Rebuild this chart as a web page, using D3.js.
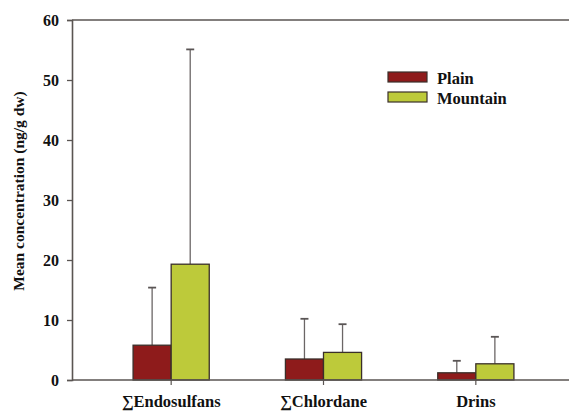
<!DOCTYPE html>
<html>
<head>
<meta charset="utf-8">
<script src="https://cdn.jsdelivr.net/npm/d3@7"></script>
<style>
  html, body { margin: 0; padding: 0; background: #fff; }
  svg { display: block; }
  text { font-family: "Liberation Serif", "Times New Roman", serif; font-weight: bold; fill: #111; }
</style>
</head>
<body>
<svg id="chart" width="569" height="411"></svg>
<script>
// Pesticide groups and the two sampling zones
const categories = ["\u2211Endosulfans", "\u2211Chlordane", "Drins"];
const seriesNames = ["Plain", "Mountain"];
const plainMeans = [5.8, 3.5, 1.2];
const mountainMeans = [19.3, 4.6, 2.7];
const plainUpper = [15.4, 10.2, 3.2];
const mountainUpper = [55.1, 9.3, 7.2];
const yTicks = [0, 10, 20, 30, 40, 50, 60];
const colors = ["#8e1b1b", "#bdca3a"];

const rows = categories.map((c, i) => ({
  category: c,
  values: [
    { series: seriesNames[0], mean: plainMeans[i], upper: plainUpper[i] },
    { series: seriesNames[1], mean: mountainMeans[i], upper: mountainUpper[i] }
  ]
}));

const svg = d3.select("#chart");
const plotLeft = 72, plotTop = 20, plotBottom = 380, plotRight = 569;

const y = d3.scaleLinear().domain([0, 60]).range([plotBottom, plotTop]);
const x = d3.scaleBand().domain(categories).range([95, 552])
  .paddingInner(0.5).paddingOuter(0.25);
const xs = d3.scaleBand().domain(seriesNames).range([0, x.bandwidth()]);
const color = d3.scaleOrdinal().domain(seriesNames).range(colors);

const axisColor = "#5a5552";

// Top border across the full width
svg.append("line").attr("x1", plotLeft).attr("x2", plotRight)
  .attr("y1", plotTop).attr("y2", plotTop)
  .attr("stroke", axisColor).attr("stroke-width", 1.6);

// Bars and upper error whiskers
const groups = svg.append("g").selectAll("g").data(rows).join("g")
  .attr("transform", d => `translate(${x(d.category)},0)`);

groups.selectAll("line.err").data(d => d.values).join("line")
  .attr("class", "err")
  .attr("x1", d => xs(d.series) + xs.bandwidth() / 2)
  .attr("x2", d => xs(d.series) + xs.bandwidth() / 2)
  .attr("y1", d => y(d.mean)).attr("y2", d => y(d.upper))
  .attr("stroke", "#6b6666").attr("stroke-width", 1.3);

groups.selectAll("line.cap").data(d => d.values).join("line")
  .attr("class", "cap")
  .attr("x1", d => xs(d.series) + xs.bandwidth() / 2 - 4)
  .attr("x2", d => xs(d.series) + xs.bandwidth() / 2 + 4)
  .attr("y1", d => y(d.upper)).attr("y2", d => y(d.upper))
  .attr("stroke", "#5a5555").attr("stroke-width", 1.8);

groups.selectAll("rect").data(d => d.values).join("rect")
  .attr("x", d => xs(d.series))
  .attr("y", d => y(d.mean))
  .attr("width", xs.bandwidth())
  .attr("height", d => y(0) - y(d.mean))
  .attr("fill", d => color(d.series))
  .attr("stroke", "#3a2f2a").attr("stroke-width", 1.3);

// Y axis
const yAxis = svg.append("g").attr("transform", `translate(${plotLeft},0)`)
  .call(d3.axisLeft(y).tickValues(yTicks).tickSize(5).tickPadding(8));
yAxis.select(".domain").attr("stroke", axisColor).attr("stroke-width", 1.6);
yAxis.selectAll(".tick line").attr("stroke", axisColor).attr("stroke-width", 1.3);
yAxis.selectAll(".tick text").attr("font-size", 16).attr("fill", "#111")
  .attr("font-family", "Liberation Serif").attr("font-weight", "bold");

// X axis baseline with ticks at category centres
const xAxis = svg.append("g").attr("transform", `translate(0,${plotBottom})`)
  .call(d3.axisBottom(x).tickSize(5).tickSizeOuter(0).tickPadding(10));
xAxis.select(".domain").attr("d", `M${plotLeft},0H${plotRight}`)
  .attr("stroke", axisColor).attr("stroke-width", 1.6);
xAxis.selectAll(".tick line").attr("stroke", axisColor).attr("stroke-width", 1.2);
xAxis.selectAll(".tick text").attr("font-size", 16.5).attr("fill", "#111")
  .attr("font-family", "Liberation Serif").attr("font-weight", "bold");

// Y axis title
svg.append("text")
  .attr("transform", "translate(24,191) rotate(-90)")
  .attr("text-anchor", "middle")
  .attr("font-size", 15.5)
  .text("Mean concentration (ng/g dw)");

// Legend
const legend = svg.append("g").attr("transform", "translate(388,72)");
const items = legend.selectAll("g").data(seriesNames).join("g")
  .attr("transform", (d, i) => `translate(0,${i * 20})`);
items.append("rect").attr("width", 39).attr("height", 10)
  .attr("fill", d => color(d)).attr("stroke", "#3a2f2a").attr("stroke-width", 1.2);
items.append("text").attr("x", 49).attr("y", 11.5).attr("font-size", 16.5).text(d => d);
</script>
</body>
</html>
